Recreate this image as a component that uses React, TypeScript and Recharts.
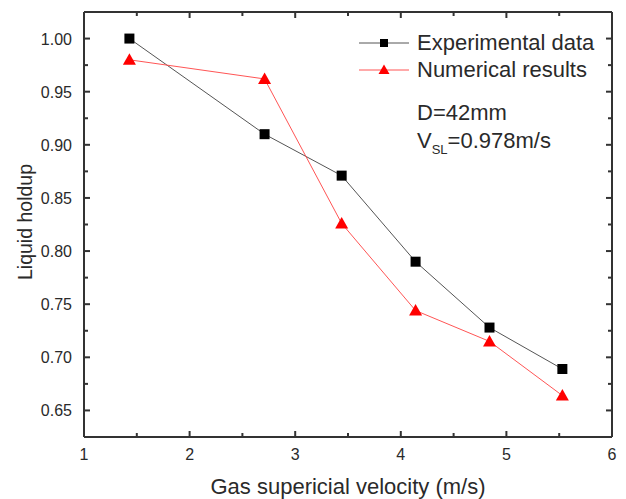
import React from 'react';
import { LineChart, Line, XAxis, YAxis, Legend } from 'recharts';

const velocity = [1.43, 2.71, 3.44, 4.14, 4.84, 5.53];
const experimental = [1.0, 0.91, 0.871, 0.79, 0.728, 0.689];
const numerical = [0.98, 0.962, 0.826, 0.744, 0.715, 0.664];
const xMajor = [1, 2, 3, 4, 5, 6];
const xMinor = [1.5, 2.5, 3.5, 4.5, 5.5];
const yMajor = [0.65, 0.7, 0.75, 0.8, 0.85, 0.9, 0.95, 1.0];
const yMinor = [0.675, 0.725, 0.775, 0.825, 0.875, 0.925, 0.975];
const seriesNames = ['Experimental data', 'Numerical results'];

const data = velocity.map((v, i) => ({ x: v, exp: experimental[i], num: numerical[i] }));
const xTicks = [...xMajor, ...xMinor].sort((a, b) => a - b);
const yTicks = [...yMajor, ...yMinor].sort((a, b) => a - b);

const TXT = '#2a2a2a';
const AX = '#333';
const FONT = 'Liberation Sans, Arial, sans-serif';

const isMajor = (arr: number[], v: number) => arr.some((m) => Math.abs(m - v) < 1e-6);

const BottomTick = (p: any) => {
  const v = p.payload.value;
  const maj = isMajor(xMajor, v);
  return (
    <g>
      <line x1={p.x} x2={p.x} y1={p.y} y2={p.y - (maj ? 6 : 4)} stroke={AX} strokeWidth={2} />
      {maj && (
        <text x={p.x} y={p.y + 23} textAnchor="middle" fontSize={16} fill={TXT} fontFamily={FONT}>
          {v}
        </text>
      )}
    </g>
  );
};
const TopTick = (p: any) => {
  const v = p.payload.value;
  const maj = isMajor(xMajor, v);
  return <line x1={p.x} x2={p.x} y1={p.y} y2={p.y + (maj ? 6 : 4)} stroke={AX} strokeWidth={2} />;
};
const LeftTick = (p: any) => {
  const v = p.payload.value;
  const maj = isMajor(yMajor, v);
  return (
    <g>
      <line x1={p.x} x2={p.x + (maj ? 6 : 4)} y1={p.y} y2={p.y} stroke={AX} strokeWidth={2} />
      {maj && (
        <text x={p.x - 12} y={p.y + 6} textAnchor="end" fontSize={16} fill={TXT} fontFamily={FONT}>
          {v.toFixed(2)}
        </text>
      )}
    </g>
  );
};
const RightTick = (p: any) => {
  const v = p.payload.value;
  const maj = isMajor(yMajor, v);
  return <line x1={p.x} x2={p.x - (maj ? 6 : 4)} y1={p.y} y2={p.y} stroke={AX} strokeWidth={2} />;
};

const Square = (p: any) => (
  <rect key={`s${p.index}`} x={p.cx - 5} y={p.cy - 5} width={10} height={10} fill="#000" />
);
const Triangle = (p: any) => (
  <polygon
    key={`t${p.index}`}
    points={`${p.cx},${p.cy - 6.5} ${p.cx - 6.5},${p.cy + 5} ${p.cx + 6.5},${p.cy + 5}`}
    fill="#f00"
  />
);

const LegendContent = () => (
  <div style={{ fontFamily: FONT, fontSize: 22, color: TXT, lineHeight: '27px' }}>
    {seriesNames.map((name, i) => (
      <div key={name} style={{ display: 'flex', alignItems: 'center' }}>
        <svg width={56} height={20} style={{ marginRight: 4 }}>
          <line x1={2} x2={52} y1={10} y2={10} stroke={i === 0 ? '#555' : '#f55'} strokeWidth={1} />
          {i === 0 ? (
            <rect x={23} y={6} width={8} height={8} fill="#000" />
          ) : (
            <polygon points="27,4.5 21.5,14 32.5,14" fill="#f00" />
          )}
        </svg>
        <span>{name}</span>
      </div>
    ))}
  </div>
);

export default function App() {
  return (
    <div style={{ position: 'absolute', left: 0, top: 0, width: 626, height: 499, background: '#fff' }}>
      <LineChart width={626} height={499} data={data} margin={{ top: 11, right: 13, bottom: 0, left: 0 }}>
        <XAxis
          dataKey="x"
          type="number"
          domain={[1, 6]}
          ticks={xTicks}
          interval={0}
          tickSize={0}
          tickMargin={0}
          height={62}
          stroke={AX}
          strokeWidth={2}
          tick={BottomTick}
          allowDataOverflow
        />
        <XAxis
          xAxisId="top"
          orientation="top"
          dataKey="x"
          type="number"
          domain={[1, 6]}
          ticks={xTicks}
          interval={0}
          tickSize={0}
          tickMargin={0}
          height={1}
          stroke={AX}
          strokeWidth={2}
          tick={TopTick}
          allowDataOverflow
        />
        <YAxis
          type="number"
          domain={[0.625, 1.025]}
          ticks={yTicks}
          interval={0}
          tickSize={0}
          tickMargin={0}
          width={84}
          stroke={AX}
          strokeWidth={2}
          tick={LeftTick}
          allowDataOverflow
        />
        <YAxis
          yAxisId="right"
          orientation="right"
          type="number"
          domain={[0.625, 1.025]}
          ticks={yTicks}
          interval={0}
          tickSize={0}
          tickMargin={0}
          width={1}
          stroke={AX}
          strokeWidth={2}
          tick={RightTick}
          allowDataOverflow
        />
        <Legend
          layout="vertical"
          align="center"
          verticalAlign="middle"
          content={LegendContent}
          wrapperStyle={{ position: 'absolute', left: 357, top: 29, width: 260 }}
        />
        <Line
          dataKey="exp"
          name={seriesNames[0]}
          stroke="#555"
          strokeWidth={1}
          dot={Square}
          isAnimationActive={false}
        />
        <Line
          dataKey="num"
          name={seriesNames[1]}
          stroke="#f55"
          strokeWidth={1}
          dot={Triangle}
          isAnimationActive={false}
        />
      </LineChart>
      <div
        style={{
          position: 'absolute',
          left: 417,
          top: 99,
          fontFamily: FONT,
          fontSize: 22,
          color: TXT,
          lineHeight: '28px',
          whiteSpace: 'nowrap',
        }}
      >
        <div>D=42mm</div>
        <div>
          V<sub style={{ fontSize: 13, verticalAlign: -6 }}>SL</sub>=0.978m/s
        </div>
      </div>
      <div
        style={{
          position: 'absolute',
          left: 348,
          top: 487,
          transform: 'translate(-50%, -50%)',
          fontFamily: FONT,
          fontSize: 22,
          color: TXT,
          whiteSpace: 'nowrap',
        }}
      >
        Gas supericial velocity (m/s)
      </div>
      <div
        style={{
          position: 'absolute',
          left: 25,
          top: 222,
          transform: 'translate(-50%, -50%) rotate(-90deg)',
          fontFamily: FONT,
          fontSize: 19.5,
          color: TXT,
          whiteSpace: 'nowrap',
        }}
      >
        Liquid holdup
      </div>
    </div>
  );
}
